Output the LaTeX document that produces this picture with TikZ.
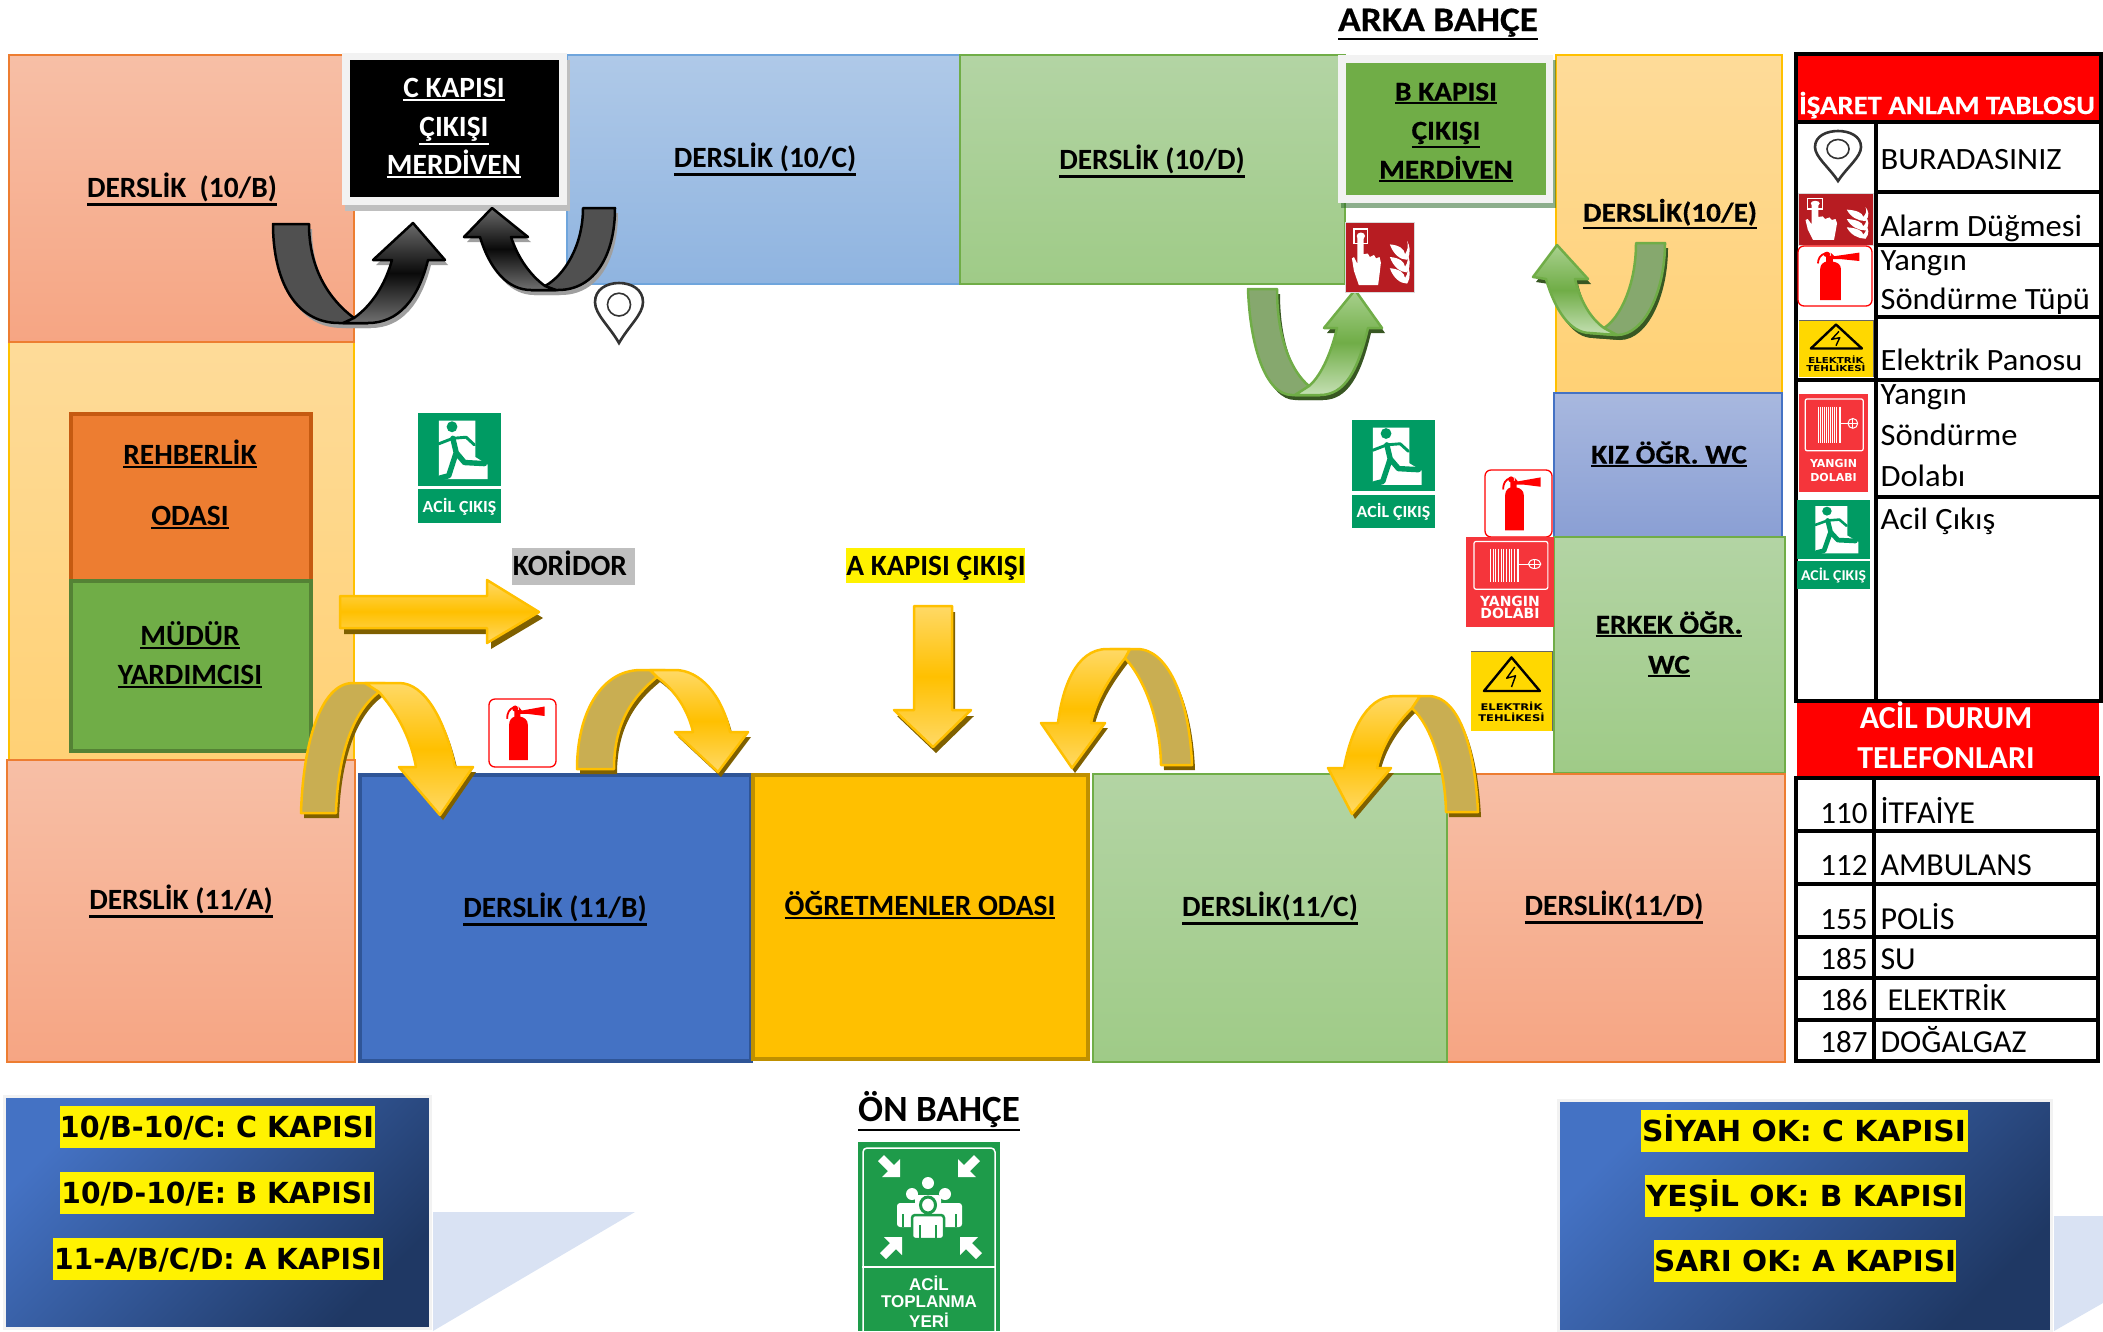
\documentclass[tikz,border=0pt]{standalone}
\usepackage{fontspec}
\usepackage{graphicx}
\setmainfont{Carlito}
\newfontfamily\cw[FakeStretch=1.05]{Carlito}
\newfontfamily\cbw[FakeStretch=1.085,FakeBold=0.4]{Carlito Bold}
\newfontfamily\lsb{Liberation Sans Bold}
\newfontfamily\dvf{DejaVu Sans}
\newcommand\ult[1]{\leavevmode\vtop{\hbox{#1}\kern1.5pt\hrule height 2.2pt}}
\newcommand\fs[1]{\fontsize{#1}{#1}\selectfont}
\definecolor{exitg}{HTML}{009B63}
\definecolor{alarmr}{HTML}{B71C22}
\definecolor{hoser}{HTML}{F5353B}
\definecolor{elecy}{HTML}{FFD800}
\definecolor{assemg}{HTML}{1E9B4A}
\tikzset{
 rlab/.style={anchor=base,yshift=-9.5pt,font=\bfseries\fs{29.4}},
 wlab/.style={anchor=base,yshift=-9.5pt,font=\cbw\fs{27}},
 tlab/.style={anchor=base west,yshift=-10pt,font=\cw\fs{31}},
 nlab/.style={anchor=base east,yshift=-10pt,font=\fs{31}},
 kblab/.style={anchor=base,yshift=-10.5pt,font=\dvf\bfseries\fs{29}},
 orangeroom/.style={draw=ED7D31c,line width=1.2pt,top color=F7BFA6c,bottom color=F6A583c},
 creamroom/.style={draw=FFC000c,line width=1.2pt,top color=FEDB99c,bottom color=FFD175c},
 blueroom/.style={draw=5B9BD5c,line width=1.2pt,top color=AFC9E8c,bottom color=8FB4E0c},
 greenroom/.style={draw=70AD47c,line width=1.5pt,top color=B3D4A4c,bottom color=9FCB87c},
 lilacroom/.style={draw=4472C4c,line width=1.5pt,top color=A8B8DFc,bottom color=8A9FD4c},
 solidroom/.style={line width=4pt},
 yshadow/.style={fill=7F6000c},
 yback/.style={draw=FFC000c,line width=2.5pt,fill=C9AE52c,line join=round},
 yfront/.style={draw=FFC000c,line width=2.5pt,top color=FFD966c,bottom color=FFD966c,middle color=FFC000c,line join=round},
 gshadow/.style={fill=385723c},
 gback/.style={draw=70AD47c,line width=2.5pt,fill=86A86Ec,line join=round},
 gfront/.style={draw=70AD47c,line width=2.5pt,top color=A9D18Ec,bottom color=C5E0B4c,middle color=70AD47c,line join=round},
 kshadow/.style={fill=gray!75},
 kback/.style={draw=black,line width=2.5pt,fill=505050c,line join=round},
 kfront/.style={draw=black,line width=2.5pt,top color=6A6A6Ac,bottom color=707070c,middle color=0A0A0Ac,line join=round},
 panelbox/.style={fill=F2F2F2c},
 legendbox/.style={draw=F2F2F2c,line width=3pt,top color=4472C4c,bottom color=1F3864c,shading angle=45},
 tline/.style={line width=3.6pt,draw=black},
}
\definecolor{F7BFA6c}{HTML}{F7BFA6}\definecolor{F6A583c}{HTML}{F6A583}
\definecolor{FFC000c}{HTML}{FFC000}\definecolor{FEDB99c}{HTML}{FEDB99}\definecolor{FFD175c}{HTML}{FFD175}
\definecolor{5B9BD5c}{HTML}{6FA5DC}\definecolor{AFC9E8c}{HTML}{AFC9E8}\definecolor{8FB4E0c}{HTML}{8FB4E0}
\definecolor{70AD47c}{HTML}{70AD47}\definecolor{B3D4A4c}{HTML}{B3D4A4}\definecolor{9FCB87c}{HTML}{9FCB87}
\definecolor{4472C4c}{HTML}{4472C4}\definecolor{A8B8DFc}{HTML}{A8B8DF}\definecolor{8A9FD4c}{HTML}{8A9FD4}
\definecolor{7F6000c}{HTML}{7F6000}\definecolor{C9AE52c}{HTML}{C9AE52}\definecolor{FFD966c}{HTML}{FFD966}
\definecolor{385723c}{HTML}{385723}\definecolor{86A86Ec}{HTML}{86A86E}\definecolor{A9D18Ec}{HTML}{A9D18E}\definecolor{C5E0B4c}{HTML}{C5E0B4}
\definecolor{505050c}{HTML}{505050}\definecolor{6A6A6Ac}{HTML}{6A6A6A}\definecolor{707070c}{HTML}{707070}\definecolor{0A0A0Ac}{HTML}{0A0A0A}
\definecolor{F2F2F2c}{HTML}{F2F2F2}\definecolor{1F3864c}{HTML}{1F3864}\definecolor{D9E2F3c}{HTML}{D9E2F3}
\definecolor{ED7D31c}{HTML}{ED7D31}\definecolor{C55A11c}{HTML}{C55A11}\definecolor{548235c}{HTML}{548235}\definecolor{2F5597c}{HTML}{2F5597}\definecolor{BF9000c}{HTML}{BF9000}
% curved arrow: prefix, back path, front path
\newcommand\uarrow[3]{%
 \fill[#1shadow,shift={(3,5)}] #2;
 \fill[#1shadow,shift={(3,5)}] #3;
 \path[#1back] #2;
 \path[#1front] #3;}
% signs, local 0..100 box: x y w h
\newcommand\signpin[4]{\begin{scope}[shift={(#1,#2)},xscale=#3/100,yscale=#4/100]
 \draw[line width=2.6pt,draw=black!80,fill=white] (50,100) .. controls (30,72) and (0,52) .. (0,32) .. controls (0,10) and (25,0) .. (50,0) .. controls (75,0) and (100,10) .. (100,32) .. controls (100,52) and (70,72) .. (50,100) -- cycle;
 \draw[line width=1.6pt,draw=black!80] (50,36) ellipse (24 and 19);
\end{scope}}
\newcommand\signalarm[4]{\begin{scope}[shift={(#1,#2)},xscale=#3/100,yscale=#4/100]
 \fill[alarmr,draw=gray!30,line width=1pt] (0,0) rectangle (100,100);
 \draw[white,line width=1.4pt] (13,10) rectangle (33,31);
 \fill[white] (23,20) ellipse (6 and 5);
 \fill[white] (18,20) -- (27,20) -- (27,46) -- (33,45) -- (36,50) -- (42,47) -- (45,52) -- (50,50) -- (52,58) -- (50,75) -- (48,90) -- (20,90) -- (13,70) -- (10,52) -- (13,50) -- (18,60) -- cycle;
 \foreach \yy in {32,50,66}{\fill[white] (65,\yy) .. controls (78,\yy+1) and (86,\yy+6) .. (87,\yy+14) .. controls (91,\yy+8) and (92,\yy+2) .. (90,\yy-5) .. controls (94,\yy+2) and (96,\yy+12) .. (90,\yy+22) .. controls (80,\yy+22) and (70,\yy+14) .. (65,\yy) -- cycle;}
\end{scope}}
\newcommand\signext[5]{\begin{scope}[shift={(#1,#2)},xscale=#3/100,yscale=#4/100]
 \draw[red,fill=white,line width=1.3pt,rounded corners=#5pt] (0,0) rectangle (100,100);
 \fill[red] (30,90) -- (30,38) .. controls (30,30) and (35,27) .. (38,26) -- (38,16) -- (47,16) -- (47,26) .. controls (52,27) and (58,30) .. (58,38) -- (58,90) -- cycle;
 \fill[red] (39,14) ellipse (4.5 and 4.5);
 \fill[red] (44,11) -- (49,17) -- (83,11) -- (83,25) -- (59,22) -- (46,22) -- cycle;
 \draw[red,line width=1.8pt] (38,12) .. controls (30,14) and (27,21) .. (27,29);
\end{scope}}
\newcommand\signhose[6]{\begin{scope}[shift={(#1,#2)},xscale=#3/100,yscale=#4/100]
 \fill[hoser] (0,0) rectangle (100,100);
 \draw[white,line width=1.2pt,rounded corners=2pt] (9,5) rectangle (93,58);
 \foreach \xx in {28,31,34,37,40,43,46,49,52,55,58,60}{\draw[white,line width=1pt] (\xx,13) -- (\xx,50);}
 \draw[white,line width=1pt] (60,30) -- (71,30);
 \draw[white,line width=1pt] (78,30) ellipse (7 and 5);
 \draw[white,line width=.8pt] (71,30) -- (85,30) (78,25) -- (78,35);
 \node[white,font=\dvf\bfseries\fs{#5}] (#6a) at (50,71) {YANGIN};
 \node[white,font=\dvf\bfseries\fs{#5}] (#6b) at (50,85) {DOLABI};
\end{scope}}
\newcommand\signelec[6]{\begin{scope}[shift={(#1,#2)},xscale=#3/100,yscale=#4/100]
 \fill[elecy] (0,0) rectangle (100,100);
 \draw[black!60,line width=1pt] (0,0) -- (100,0) -- (100,100);
 \draw[black,line width=2.4pt,line join=round] (50,8) -- (85,50) -- (16,50) -- cycle;
 \draw[black,line width=1.4pt,line join=round] (54,20) -- (44,34) -- (55,31) -- (50,45);
 \node[black,font=\dvf\bfseries\fs{#5}] (#6a) at (50,69) {\scalebox{1.25}[1]{ELEKTRİK}};
 \node[black,font=\dvf\bfseries\fs{#5}] (#6b) at (50,83) {\scalebox{1.25}[1]{TEHLİKESİ}};
\end{scope}}
\newcommand\signexit[6]{\begin{scope}[shift={(#1,#2)},xscale=#3/100,yscale=#4/100]
 \fill[exitg] (0,0) rectangle (100,66);
 \fill[exitg] (0,69) rectangle (100,100);
 \fill[white] (25,7) -- (69,7) -- (69,40) -- (84,47) -- (84,60) -- (25,60) -- cycle;
 \fill[exitg] (41,12.5) ellipse (6.5 and 5);
 \draw[exitg,line width=#3*0.065pt,line cap=round,line join=round] (42,23) -- (46,36) -- (37,57) -- (27,59) (46,36) -- (56,45) -- (80,46);
 \draw[exitg,line width=#3*0.035pt,line cap=round,line join=round] (42,23) -- (25,28) (42,23) -- (58,22) -- (68,29);
 \node[white,font=\bfseries\cw\fs{#5}] (#6) at (50,85) {ACİL ÇIKIŞ};
\end{scope}}
\newcommand\asmarrow[3]{\begin{scope}[shift={(#1,#2)},rotate=#3]
 \fill[white] (0,0) -- (-18,0) -- (-12,-6) -- (-22,-16) -- (-16,-22) -- (-6,-12) -- (0,-18) -- cycle;
\end{scope}}
\begin{document}
\begin{tikzpicture}[x=1pt,y=-1pt]
\useasboundingbox (0,0) rectangle (2103,1331);
% rooms
\path[creamroom] (9,342) rectangle (354,762);
\path[orangeroom] (9,55) rectangle (354,342);
\path[blueroom] (567,55) rectangle (960,284);
\path[greenroom] (960,55) rectangle (1345,284);
\path[creamroom] (1556,55) rectangle (1782,393);
\path[lilacroom] (1554,393) rectangle (1782,537);
\path[greenroom] (1554,537) rectangle (1785,773);
\path[solidroom,draw=C55A11c,fill=ED7D31c] (71,414) rectangle (311,581);
\path[solidroom,draw=548235c,fill=70AD47c] (71,581) rectangle (311,751);
\path[orangeroom] (7,760) rectangle (355,1062);
\path[orangeroom] (1447,774) rectangle (1785,1062);
\path[greenroom] (1093,774) rectangle (1447,1062);
\path[solidroom,draw=2F5597c,fill=4472C4c] (360,775) rectangle (751,1061);
\path[solidroom,draw=BF9000c,fill=FFC000c] (753,775) rectangle (1088,1059);
% door panels
\fill[gray!50] (345,60) rectangle (570,211);
\path[panelbox] (342,53) rectangle (567,205);
\fill[black] (350,60) rectangle (559,197);
\fill[gray!60!green!60!black,opacity=.55] (1341,60) rectangle (1556,208);
\path[panelbox] (1338,55) rectangle (1553,203);
\fill[70AD47c] (1346,63) rectangle (1546,195);
% black arrows
\uarrow{k}{(273,224) .. controls (273,280) and (295,323) .. (339,323) -- (368,323) -- (354,318) .. controls (330,300) and (309,270) .. (309,224) -- cycle}{(354,318) .. controls (372,305) and (385,285) .. (392,260) -- (373,260) -- (413,223) -- (445,260) -- (428,260) .. controls (418,300) and (398,323) .. (368,323) -- (343,323) -- cycle}
\uarrow{k}{(615,208) .. controls (615,255) and (595,290) .. (558,290) -- (531,290) -- (545,286) .. controls (565,275) and (583,245) .. (583,208) -- cycle}{(545,286) .. controls (530,275) and (518,258) .. (511,237) -- (528,237) -- (492,208) -- (464,237) -- (480,237) .. controls (490,270) and (508,290) .. (531,290) -- (556,290) -- cycle}
% green arrows
\uarrow{g}{(1248,289) .. controls (1250,345) and (1265,395) .. (1292,395) -- (1320,395) -- (1309,386) .. controls (1292,372) and (1277,340) .. (1277,289) -- cycle}{(1309,386) .. controls (1322,375) and (1332,350) .. (1337,328) -- (1324,328) -- (1355,290) -- (1382,328) -- (1368,328) .. controls (1358,370) and (1345,395) .. (1320,395) -- (1295,395) -- cycle}
\uarrow{g}{(1665,243) .. controls (1665,290) and (1645,335) .. (1617,335) -- (1590,333) -- (1604,328) .. controls (1620,318) and (1636,285) .. (1636,243) -- cycle}{(1604,328) .. controls (1590,318) and (1580,300) .. (1575,279) -- (1588,279) -- (1557,245) -- (1533,277) -- (1546,279) .. controls (1555,310) and (1570,333) .. (1590,333) -- (1617,335) -- cycle}
% yellow arrows
\uarrow{y}{(301,813) .. controls (303,745) and (320,683) .. (353,683) -- (385,683) -- (379,692) .. controls (355,710) and (338,750) .. (336,813) -- cycle}{(379,692) .. controls (395,710) and (410,735) .. (416,767) -- (399,767) -- (440,815) -- (473,767) -- (455,767) .. controls (445,720) and (425,683) .. (399,683) -- (365,683) -- cycle}
\uarrow{y}{(577,769) .. controls (577,715) and (600,670) .. (641,670) -- (665,670) -- (657,677) .. controls (635,695) and (614,720) .. (614,769) -- cycle}{(657,677) .. controls (675,690) and (688,710) .. (693,732) -- (675,732) -- (718,772) -- (748,732) -- (730,732) .. controls (722,695) and (700,670) .. (675,670) -- (650,670) -- cycle}
\uarrow{y}{(1192,765) .. controls (1190,705) and (1170,649) .. (1137,649) -- (1110,649) -- (1125,658) .. controls (1145,680) and (1160,720) .. (1161,765) -- cycle}{(1125,658) .. controls (1108,680) and (1096,700) .. (1091,723) -- (1105,723) -- (1072,768) -- (1041,723) -- (1058,723) .. controls (1062,690) and (1075,649) .. (1107,649) -- (1130,649) -- cycle}
\uarrow{y}{(1478,812) .. controls (1475,750) and (1460,696) .. (1428,696) -- (1400,696) -- (1412,708) .. controls (1430,725) and (1445,765) .. (1446,812) -- cycle}{(1412,708) .. controls (1395,725) and (1382,745) .. (1377,768) -- (1391,768) -- (1352,814) -- (1328,768) -- (1344,768) .. controls (1350,735) and (1365,696) .. (1395,696) -- (1420,696) -- cycle}
\fill[7F6000c,shift={(4,6)}] (340,596) -- (487,596) -- (487,580) -- (539,612) -- (487,643) -- (487,628) -- (340,628) -- cycle;
\path[yfront] (340,596) -- (487,596) -- (487,580) -- (539,612) -- (487,643) -- (487,628) -- (340,628) -- cycle;
\fill[7F6000c,shift={(3,6)}] (914,606) -- (952,606) -- (952,710) -- (971,710) -- (933,747) -- (894,710) -- (914,710) -- cycle;
\path[yfront] (914,606) -- (952,606) -- (952,710) -- (971,710) -- (933,747) -- (894,710) -- (914,710) -- cycle;
% room labels
\node[rlab] (l10b) at (182,188) {\ult{DERSLİK\ \ (10/B)}};
\node[rlab,text=white] (c1) at (454,88) {\color{white}\ult{C KAPISI}};
\node[rlab,text=white] (c2) at (454,127) {\color{white}\ult{ÇIKIŞI}};
\node[rlab,text=white] (c3) at (454,165) {\color{white}\ult{MERDİVEN}};
\node[rlab] (l10c) at (765,158) {\ult{DERSLİK (10/C)}};
\node[rlab] (l10d) at (1152,160) {\ult{DERSLİK (10/D)}};
\node[wlab] (b1) at (1446,91) {\ult{B KAPISI}};
\node[wlab] (b2) at (1446,130) {\ult{ÇIKIŞI}};
\node[wlab] (b3) at (1446,169) {\ult{MERDİVEN}};
\node[anchor=base,yshift=-11pt,font=\cbw\fs{34.4}] (arka) at (1438,20) {\ult{ARKA BAHÇE}};
\node[wlab] (l10e) at (1670,212) {\ult{DERSLİK(10/E)}};
\node[wlab] (kiz) at (1669,454) {\ult{KIZ ÖĞR. WC}};
\node[wlab] (er1) at (1669,624) {\ult{ERKEK ÖĞR.}};
\node[wlab] (er2) at (1669,664) {\ult{WC}};
\node[rlab] (re1) at (190,455) {\ult{REHBERLİK}};
\node[rlab] (re2) at (190,516) {\ult{ODASI}};
\node[rlab] (mu1) at (190,636) {\ult{MÜDÜR}};
\node[rlab] (mu2) at (190,675) {\ult{YARDIMCISI}};
\fill[gray!50] (512,548) rectangle (635,585);
\node[rlab] (kor) at (570,566) {KORİDOR};
\fill[yellow] (846,548) rectangle (1025,583);
\node[rlab] (akap) at (936,566) {A KAPISI ÇIKIŞI};
\node[rlab] (l11a) at (181,900) {\ult{DERSLİK (11/A)}};
\node[rlab] (l11b) at (555,908) {\ult{DERSLİK (11/B)}};
\node[rlab] (ogr) at (920,906) {\ult{ÖĞRETMENLER ODASI}};
\node[rlab] (l11c) at (1270,907) {\ult{DERSLİK(11/C)}};
\node[rlab] (l11d) at (1614,906) {\ult{DERSLİK(11/D)}};
% mean table
\fill[red] (1796,54) rectangle (2101,122);
\draw[tline] (1796,54) rectangle (2101,701);
\draw[tline] (1796,122) -- (2101,122) (1876,122) -- (1876,701)
 (1876,192) -- (2101,192) (1876,245) -- (2101,245) (1876,317) -- (2101,317)
 (1796,380) -- (2101,380) (1876,497) -- (2101,497);
\node[anchor=base,yshift=-9pt,font=\cbw\fs{26.5},text=white] (ttl) at (1947,105) {İŞARET ANLAM TABLOSU};
\node[tlab] (t1) at (1877,159) {BURADASINIZ};
\node[tlab] (t2) at (1877,226) {Alarm Düğmesi};
\node[tlab] (t3a) at (1877,260) {Yangın};
\node[tlab] (t3b) at (1877,299) {Söndürme Tüpü};
\node[tlab] (t4) at (1877,360) {Elektrik Panosu};
\node[tlab] (t5a) at (1877,394) {Yangın};
\node[tlab] (t5b) at (1877,435) {Söndürme};
\node[tlab] (t5c) at (1877,476) {Dolabı};
\node[tlab] (t6) at (1877,519) {Acil Çıkış};
% phones
\fill[red] (1797,703) rectangle (2099,777);
\node[rlab,text=white,font=\bfseries\fs{32}] (ph1) at (1946,719) {ACİL DURUM};
\node[rlab,text=white,font=\bfseries\fs{32}] (ph2) at (1946,759) {TELEFONLARI};
\draw[tline] (1796,778) rectangle (2098,1061);
\draw[tline] (1874,778) -- (1874,1061)
 (1796,831) -- (2098,831) (1796,884) -- (2098,884) (1796,937) -- (2098,937) (1796,978) -- (2098,978) (1796,1020) -- (2098,1020);
\foreach \nm/\num/\tx/\yy/\xx in {a/110/İTFAİYE/813/1877,b/112/AMBULANS/865/1877,c/155/POLİS/919/1877,d/185/SU/959/1877,e/186/ELEKTRİK/1000/1884,f/187/DOĞALGAZ/1042/1877}{
 \node[nlab] (n\nm) at (1871,\yy) {\num};
 \node[anchor=base west,yshift=-10pt,font=\fs{32}] (p\nm) at (\xx,\yy) {\tx};
}
% signs
\signpin{595}{283}{48}{60}
\signalarm{1345}{222}{69}{70}
\signexit{418}{413}{83}{110}{17}{ex1}
\signexit{1352}{420}{83}{108}{17}{ex2}
\signext{1485}{470}{67}{67}{6}
\signhose{1466}{537}{88}{90}{14}{hs1}
\signelec{1471}{651}{81}{80}{9.2}{el1}
\signext{489}{699}{67}{68}{6}
\signpin{1815}{131}{46}{50}
\signalarm{1798}{193}{75}{52}
\signext{1798}{246}{74}{60}{6}
\signelec{1799}{320}{74}{57}{8.2}{el2}
\signhose{1799}{394}{69}{98}{11}{hs2}
\signexit{1797}{500}{73}{89}{15}{ex3}
% legends
\fill[D9E2F3c] (433,1212) -- (635,1212) -- (433,1331) -- cycle;
\shade[legendbox] (4,1096) rectangle (430,1328);
\fill[yellow] (60,1106) rectangle (375,1148);
\fill[yellow] (60,1172) rectangle (374,1214);
\fill[yellow] (53,1238) rectangle (383,1280);
\node[kblab] (k1) at (217,1127) {\resizebox{314pt}{\height}{10/B-10/C: C KAPISI}};
\node[kblab] (k2) at (217,1193) {\resizebox{311pt}{\height}{10/D-10/E: B KAPISI}};
\node[kblab] (k3) at (218,1259) {\resizebox{328pt}{\height}{11-A/B/C/D: A KAPISI}};
\fill[D9E2F3c] (2054,1216) -- (2103,1216) -- (2103,1303) -- (2054,1331) -- cycle;
\shade[legendbox] (1558,1100) rectangle (2051,1331);
\fill[yellow] (1641,1110) rectangle (1968,1152);
\fill[yellow] (1645,1175) rectangle (1965,1217);
\fill[yellow] (1654,1240) rectangle (1956,1282);
\node[kblab] (s1) at (1804,1131) {\resizebox{324pt}{\height}{SİYAH OK: C KAPISI}};
\node[kblab] (s2) at (1805,1196) {\resizebox{318pt}{\height}{YEŞİL OK: B KAPISI}};
\node[kblab] (s3) at (1805,1261) {\resizebox{302pt}{\height}{SARI OK: A KAPISI}};
% on bahce
\node[anchor=base,yshift=-11pt,font=\bfseries\fs{37}] (onb) at (939,1110) {\ult{ÖN BAHÇE}};
\fill[assemg] (858,1142) rectangle (1000,1331);
\draw[white,line width=1.5pt,rounded corners=4pt] (863,1332) -- (863,1148) -- (995,1148) -- (995,1332);
\draw[white,line width=1.8pt] (862,1267) -- (996,1267);
\asmarrow{900}{1177}{0}
\asmarrow{958}{1177}{-90}
\asmarrow{902}{1237}{90}
\asmarrow{960}{1237}{180}
\fill[white] (928,1183) circle (6);
\fill[white,rounded corners=3pt] (915,1195) rectangle (941,1222);
\foreach \xx/\aa/\bb in {912/897/920,945/939/962}{
 \fill[white] (\xx,1194) circle (6);
 \fill[white,rounded corners=3pt] (\aa,1203) rectangle (\bb,1227);}
\draw[assemg,line width=1.2pt] (903,1214) -- (903,1227) (956,1214) -- (956,1227);
\draw[assemg,line width=3pt,fill=white] (928,1205) ellipse (7.5 and 8);
\draw[assemg,line width=2.5pt,fill=white,rounded corners=3pt] (912,1239) -- (912,1215) -- (944,1215) -- (944,1239) -- cycle;
\draw[assemg,line width=1.2pt] (920,1225) -- (920,1238) (936,1225) -- (936,1238);
\node[white,font=\lsb\fs{17}] (asm1) at (929,1283) {ACİL};
\node[white,font=\lsb\fs{17}] (asm2) at (929,1302) {TOPLANMA};
\node[white,font=\lsb\fs{17}] (asm3) at (929,1320) {YERİ};
\end{tikzpicture}
\end{document}
